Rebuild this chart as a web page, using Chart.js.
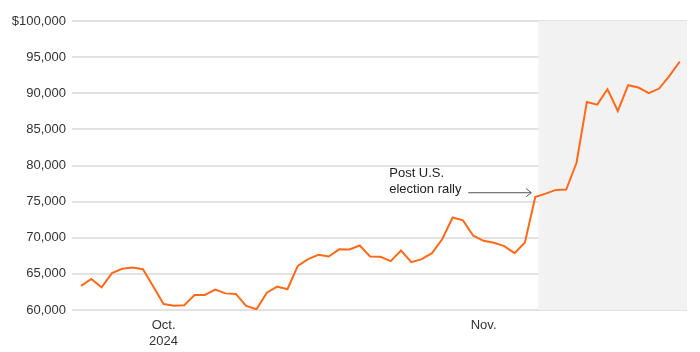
<!DOCTYPE html>
<html>
<head>
<meta charset="utf-8">
<script src="https://cdn.jsdelivr.net/npm/chart.js@4"></script>
<style>
    body { margin: 0; background: #fff; }
    #wrap { width: 700px; height: 352px; }
</style>
</head>
<body>
<div id="wrap"><canvas id="chart" width="700" height="352"></canvas></div>
<script>
// daily closing price, Sep 23 - Nov 20 2024
const dates = [
    '2024-09-23', '2024-09-24', '2024-09-25', '2024-09-26', '2024-09-27', '2024-09-28', '2024-09-29', '2024-09-30',
    '2024-10-01', '2024-10-02', '2024-10-03', '2024-10-04', '2024-10-05', '2024-10-06', '2024-10-07', '2024-10-08',
    '2024-10-09', '2024-10-10', '2024-10-11', '2024-10-12', '2024-10-13', '2024-10-14', '2024-10-15', '2024-10-16',
    '2024-10-17', '2024-10-18', '2024-10-19', '2024-10-20', '2024-10-21', '2024-10-22', '2024-10-23', '2024-10-24',
    '2024-10-25', '2024-10-26', '2024-10-27', '2024-10-28', '2024-10-29', '2024-10-30', '2024-10-31', '2024-11-01',
    '2024-11-02', '2024-11-03', '2024-11-04', '2024-11-05', '2024-11-06', '2024-11-07', '2024-11-08', '2024-11-09',
    '2024-11-10', '2024-11-11', '2024-11-12', '2024-11-13', '2024-11-14', '2024-11-15', '2024-11-16', '2024-11-17',
    '2024-11-18', '2024-11-19', '2024-11-20'
];
const prices = [
    63330, 64300, 63150, 65100, 65700, 65880, 65650, 63250,
    60830, 60600, 60650, 62080, 62080, 62820, 62300, 62220,
    60560, 60100, 62400, 63240, 62870, 66110, 67040, 67640,
    67400, 68400, 68380, 68930, 67400, 67360, 66760, 68240,
    66630, 67040, 67870, 69820, 72800, 72400, 70280, 69580,
    69300, 68850, 67870, 69350, 75650, 76110, 76620, 76670,
    80380, 88800, 88430, 90560, 87550, 91110, 90790, 90000,
    90650, 92400, 94400
];
const monthTicks = ['2024-10-01', '2024-11-01'];
const monthLabels = [['Oct.', '2024'], 'Nov.'];
const shadeFrom = '2024-11-06';
const noteLines = ['Post U.S.', 'election rally'];
const notePoint = '2024-11-06';

const DAY = 86400000;
const t0 = Date.parse(dates[0]);
const dayOf = d => (Date.parse(d) - t0) / DAY;

const points = dates.map((d, i) => ({ x: dayOf(d), y: prices[i] }));
const tickDays = monthTicks.map(dayOf);

const FONT = '"Liberation Sans", Arial, Helvetica, sans-serif';

const shade = {
    id: 'shade',
    beforeDatasetsDraw(chart) {
        const { ctx, chartArea, scales } = chart;
        const x0 = scales.x.getPixelForValue(dayOf(shadeFrom) + 0.3);
        ctx.save();
        ctx.fillStyle = '#f2f2f2';
        ctx.fillRect(x0, chartArea.top, chartArea.right - x0, chartArea.bottom - chartArea.top);
        ctx.restore();
    },
    afterDatasetsDraw(chart) {
        const { ctx, scales } = chart;
        const tipX = scales.x.getPixelForValue(dayOf(notePoint)) - 4;
        const tipY = scales.y.getPixelForValue(76300);
        ctx.save();
        ctx.font = '13px ' + FONT;
        ctx.fillStyle = '#222';
        ctx.textBaseline = 'alphabetic';
        ctx.fillText(noteLines[0], tipX - 142, tipY - 15);
        ctx.fillText(noteLines[1], tipX - 142, tipY + 0.5);
        ctx.strokeStyle = '#555';
        ctx.lineWidth = 1;
        ctx.beginPath();
        ctx.moveTo(tipX - 63, tipY + 0.5);
        ctx.lineTo(tipX, tipY + 0.5);
        ctx.moveTo(tipX - 5, tipY - 3.5);
        ctx.lineTo(tipX, tipY + 0.5);
        ctx.lineTo(tipX - 5, tipY + 4.5);
        ctx.stroke();
        ctx.restore();
    }
};

new Chart(document.getElementById('chart'), {
    type: 'line',
    data: {
        datasets: [{
            data: points,
            borderColor: '#ff6a1a',
            borderWidth: 2,
            pointRadius: 0,
            tension: 0,
            fill: false
        }]
    },
    options: {
        responsive: false,
        devicePixelRatio: 1,
        animation: false,
        layout: { padding: { top: 21, right: 13, bottom: 0, left: 0 } },
        plugins: {
            legend: { display: false },
            tooltip: { enabled: false }
        },
        scales: {
            x: {
                type: 'linear',
                min: -0.87,
                max: 58.7,
                afterBuildTicks(scale) {
                    scale.ticks = tickDays.map(v => ({ value: v }));
                },
                afterFit(scale) { scale.height = 42; },
                grid: { display: false },
                border: { display: false },
                ticks: {
                    autoSkip: false,
                    maxRotation: 0,
                    padding: -1,
                    color: '#333',
                    font: { family: FONT, size: 13, lineHeight: 1.25 },
                    callback: (v) => monthLabels[tickDays.indexOf(v)]
                }
            },
            y: {
                min: 60000,
                max: 100000,
                afterFit(scale) { scale.width = 72; },
                grid: { color: '#e2e2e2', lineWidth: 2, drawTicks: false },
                border: { display: false },
                ticks: {
                    stepSize: 5000,
                    padding: 6,
                    color: '#333',
                    font: { family: FONT, size: 13 },
                    callback: v => (v === 100000 ? '$' : '') + v.toLocaleString('en-US')
                }
            }
        }
    },
    plugins: [shade]
});
</script>
</body>
</html>
